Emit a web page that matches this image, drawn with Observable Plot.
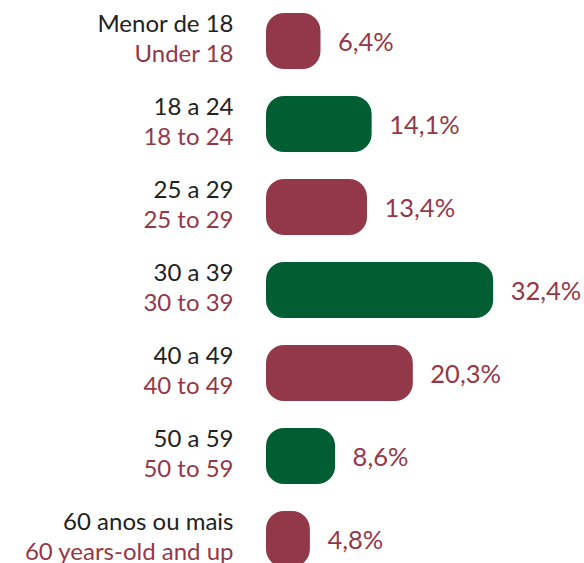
<!DOCTYPE html>
<html>
<head>
<meta charset="utf-8">
<script src="https://cdn.jsdelivr.net/npm/d3@7"></script>
<script src="https://cdn.jsdelivr.net/npm/@observablehq/plot@0.6"></script>
<style>
  html, body { margin: 0; padding: 0; background: #fff; }
  #chart svg { display: block; }
</style>
</head>
<body>
<div id="chart"></div>
<script>
const labelsPt = ["Menor de 18", "18 a 24", "25 a 29", "30 a 39", "40 a 49", "50 a 59", "60 anos ou mais"];
const labelsEn = ["Under 18", "18 to 24", "25 to 29", "30 to 39", "40 to 49", "50 to 59", "60 years-old and up"];
const values = [6.4, 14.1, 13.4, 32.4, 20.3, 8.6, 4.8];
const valueLabels = ["6,4%", "14,1%", "13,4%", "32,4%", "20,3%", "8,6%", "4,8%"];

const MAROON = "#933849";
const GREEN = "#015e33";
const DARK = "#222222";

const data = labelsPt.map((pt, i) => ({pt, en: labelsEn[i], value: values[i], label: valueLabels[i], i}));

const chart = Plot.plot({
  width: 584,
  height: 563,
  marginLeft: 278,
  marginRight: 0,
  marginTop: 0,
  marginBottom: 0,
  style: {fontFamily: "Lato, sans-serif", background: "#fff"},
  x: {domain: [0, 46.08], range: [278, 584], axis: null},
  y: {domain: labelsPt, range: [12, 568], paddingInner: 0.328, paddingOuter: 0, axis: null},
  marks: [
    Plot.barX(data, {
      y: "pt", x1: 0, x2: "value",
      insetLeft: -12,
      rx: 18, ry: 18,
      fill: d => d.i % 2 ? GREEN : MAROON
    }),
    Plot.text(data, {
      y: "pt", x: "value", text: "label",
      textAnchor: "start", dx: 17, dy: 1.5,
      fill: MAROON, fontSize: 25.5
    }),
    Plot.text(data, {
      y: "pt", x: 0, text: "pt",
      textAnchor: "end", dx: -45, dy: -17,
      fill: DARK, fontSize: 24
    }),
    Plot.text(data, {
      y: "pt", x: 0, text: "en",
      textAnchor: "end", dx: -45, dy: 13,
      fill: MAROON, fontSize: 24
    })
  ]
});
document.getElementById("chart").appendChild(chart);
</script>
</body>
</html>
